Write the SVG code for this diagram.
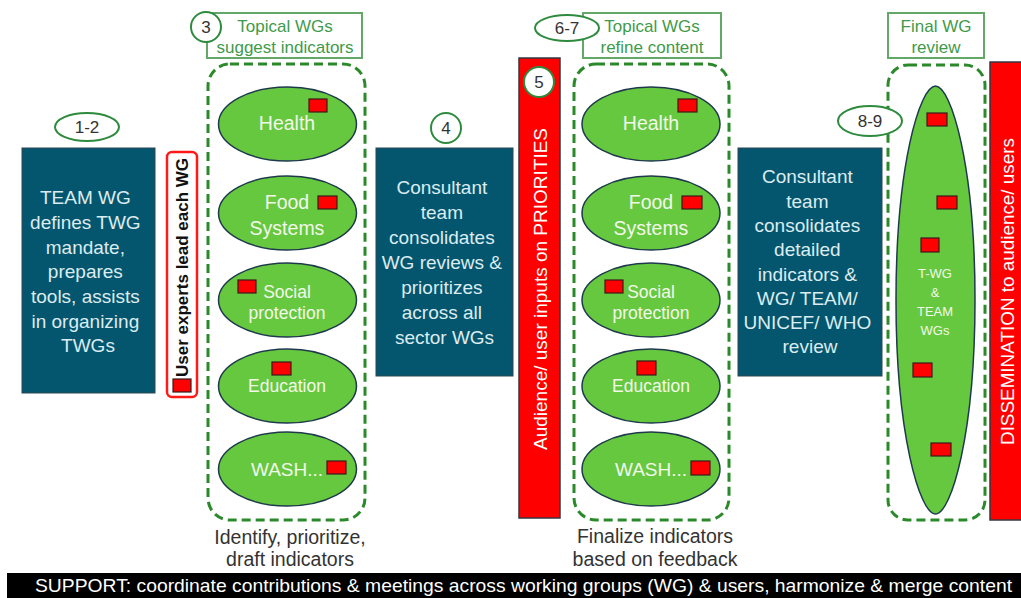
<svg xmlns="http://www.w3.org/2000/svg" width="1021" height="598" viewBox="0 0 1021 598">
  <style>
    text { font-family: "Liberation Sans", Arial, sans-serif; }
    .box { fill: #04566f; stroke: #2d4650; stroke-width: 1; }
    .boxtxt { fill: #dcecf0; font-size: 19px; text-anchor: middle; }
    .wg { fill: #66c83f; stroke: #1e3a4c; stroke-width: 1.5; }
    .wgtxt { fill: #f2f8ea; text-anchor: middle; }
    .big { font-size: 19.5px; }
    .small { font-size: 17.5px; }
    .flag { fill: #ff0000; stroke: #3a1a1a; stroke-width: 1.2; }
    .group { fill: none; stroke: #2a8a2a; stroke-width: 3; stroke-dasharray: 9 5; }
    .hdr { fill: #ffffff; stroke: #63a868; stroke-width: 2; }
    .hdrtxt { fill: #3f9a4a; font-size: 17px; text-anchor: middle; }
    .step { fill: #ffffff; stroke: #2e8b3e; stroke-width: 2; }
    .steptxt { fill: #333333; font-size: 17px; text-anchor: middle; }
    .note { fill: #333333; font-size: 19.5px; text-anchor: middle; }
    .bar { fill: #ff0000; stroke: #33393f; stroke-width: 1.5; }
    .bartxt { fill: #ffffff; font-size: 18.5px; text-anchor: middle; }
  </style>

  <!-- step 1-2: TEAM WG -->
  <g id="team-wg">
    <rect class="box" x="22" y="148" width="133" height="245"/>
    <text class="boxtxt">
      <tspan x="88" y="204">TEAM WG</tspan>
      <tspan x="88" y="229">defines TWG</tspan>
      <tspan x="88" y="254">mandate,</tspan>
      <tspan x="88" y="278">prepares</tspan>
      <tspan x="88" y="303">tools, assists</tspan>
      <tspan x="88" y="328">in organizing</tspan>
      <tspan x="88" y="352">TWGs</tspan>
    </text>
    <ellipse class="step" cx="87" cy="127" rx="32" ry="14"/>
    <text class="steptxt" x="87" y="133">1-2</text>
  </g>

  <!-- legend: user experts -->
  <g id="user-experts">
    <rect x="167" y="152" width="30" height="245" rx="5" fill="#ffffff" stroke="#ff1a1a" stroke-width="2.5"/>
    <text transform="translate(188 267.5) rotate(-90)" font-size="16" font-weight="bold" fill="#111111" text-anchor="middle" textLength="219" lengthAdjust="spacingAndGlyphs">User experts lead each WG</text>
    <rect class="flag" x="173" y="379" width="18" height="13"/>
  </g>

  <!-- step 3: topical WGs suggest indicators -->
  <g id="topical-wgs-suggest">
    <rect class="hdr" x="207" y="13" width="155" height="45"/>
    <text class="hdrtxt"><tspan x="285" y="32">Topical WGs</tspan><tspan x="285" y="53">suggest indicators</tspan></text>
    <circle class="step" cx="206" cy="27" r="15"/>
    <text class="steptxt" x="206" y="33">3</text>
    <rect class="group" x="208" y="64" width="157" height="456" rx="22"/>

    <ellipse class="wg" cx="287.5" cy="124" rx="69" ry="37"/>
    <text class="wgtxt big" x="287" y="130">Health</text>
    <rect class="flag" x="309" y="99" width="18" height="13"/>

    <ellipse class="wg" cx="287.5" cy="213" rx="69" ry="37"/>
    <text class="wgtxt big"><tspan x="287" y="209">Food</tspan><tspan x="287" y="235">Systems</tspan></text>
    <rect class="flag" x="318" y="196" width="19" height="13"/>

    <ellipse class="wg" cx="287.5" cy="300" rx="69" ry="37"/>
    <text class="wgtxt small"><tspan x="287" y="298">Social</tspan><tspan x="287" y="319">protection</tspan></text>
    <rect class="flag" x="238" y="280" width="18" height="13"/>

    <ellipse class="wg" cx="287.5" cy="386" rx="69" ry="37"/>
    <text class="wgtxt small" x="287" y="392">Education</text>
    <rect class="flag" x="272" y="362" width="19" height="13"/>

    <ellipse class="wg" cx="287.5" cy="469" rx="69" ry="37"/>
    <text class="wgtxt" x="287" y="476" font-size="19">WASH...</text>
    <rect class="flag" x="327" y="461" width="19" height="13"/>

    <text class="note"><tspan x="290" y="544">Identify, prioritize,</tspan><tspan x="290" y="566">draft indicators</tspan></text>
  </g>

  <!-- step 4: consultant team prioritizes -->
  <g id="consultant-prioritize">
    <rect class="box" x="376" y="148" width="137" height="228"/>
    <text class="boxtxt">
      <tspan x="444.5" y="194">Consultant</tspan>
      <tspan x="444.5" y="219">team</tspan>
      <tspan x="444.5" y="244">consolidates</tspan>
      <tspan x="444.5" y="269">WG reviews &amp;</tspan>
      <tspan x="444.5" y="294">prioritizes</tspan>
      <tspan x="444.5" y="319">across all</tspan>
      <tspan x="444.5" y="344">sector WGs</tspan>
    </text>
    <circle class="step" cx="446" cy="128" r="15"/>
    <text class="steptxt" x="446" y="134">4</text>
  </g>

  <!-- step 5: audience inputs -->
  <g id="audience-inputs">
    <rect class="bar" x="519" y="58" width="41" height="460"/>
    <text class="bartxt" transform="translate(546.5 289) rotate(-90)" textLength="322" lengthAdjust="spacingAndGlyphs">Audience/ user inputs on PRIORITIES</text>
    <circle class="step" cx="539" cy="82" r="15"/>
    <text class="steptxt" x="539" y="88">5</text>
  </g>

  <!-- step 6-7: topical WGs refine content -->
  <g id="topical-wgs-refine">
    <rect class="hdr" x="583" y="13" width="138" height="45"/>
    <text class="hdrtxt"><tspan x="652" y="32">Topical WGs</tspan><tspan x="652" y="53">refine content</tspan></text>
    <ellipse class="step" cx="567" cy="28" rx="32" ry="13"/>
    <text class="steptxt" x="567" y="34">6-7</text>
    <rect class="group" x="574" y="64" width="155" height="456" rx="22"/>

    <ellipse class="wg" cx="651" cy="124" rx="69" ry="37"/>
    <text class="wgtxt big" x="651" y="130">Health</text>
    <rect class="flag" x="678" y="99" width="19" height="13"/>

    <ellipse class="wg" cx="651" cy="213" rx="69" ry="37"/>
    <text class="wgtxt big"><tspan x="651" y="209">Food</tspan><tspan x="651" y="235">Systems</tspan></text>
    <rect class="flag" x="682" y="196" width="20" height="13"/>

    <ellipse class="wg" cx="651" cy="300" rx="69" ry="37"/>
    <text class="wgtxt small"><tspan x="651" y="298">Social</tspan><tspan x="651" y="319">protection</tspan></text>
    <rect class="flag" x="605" y="280" width="18" height="13"/>

    <ellipse class="wg" cx="651" cy="386" rx="69" ry="37"/>
    <text class="wgtxt small" x="651" y="392">Education</text>
    <rect class="flag" x="637" y="361" width="19" height="14"/>

    <ellipse class="wg" cx="651" cy="469" rx="69" ry="37"/>
    <text class="wgtxt" x="651" y="476" font-size="19">WASH...</text>
    <rect class="flag" x="691" y="461" width="19" height="14"/>

    <text class="note"><tspan x="655" y="543">Finalize indicators</tspan><tspan x="655" y="566">based on feedback</tspan></text>
  </g>

  <!-- step 8: consultant team consolidates detailed indicators -->
  <g id="consultant-consolidate">
    <rect class="box" x="738" y="148" width="144" height="228"/>
    <text class="boxtxt">
      <tspan x="810" y="183">Consultant</tspan>
      <tspan x="810" y="208">team</tspan>
      <tspan x="810" y="232">consolidates</tspan>
      <tspan x="810" y="256">detailed</tspan>
      <tspan x="810" y="281">indicators &amp;</tspan>
      <tspan x="810" y="305">WG/ TEAM/</tspan>
      <tspan x="810" y="329">UNICEF/ WHO</tspan>
      <tspan x="810" y="353">review</tspan>
    </text>
  </g>

  <!-- step 8-9: final WG review -->
  <g id="final-wg-review">
    <rect class="hdr" x="888" y="13" width="96" height="45"/>
    <text class="hdrtxt"><tspan x="936" y="32">Final WG</tspan><tspan x="936" y="53">review</tspan></text>
    <rect class="group" x="888" y="65" width="97" height="455" rx="20"/>
    <path class="wg" d="M935.5,86 C951,86 975,165 975,300 C975,435 951,514 935.5,514 C920,514 896,435 896,300 C896,165 920,86 935.5,86 Z"/>
    <rect class="flag" x="927" y="113" width="20" height="13"/>
    <rect class="flag" x="937" y="196" width="20" height="13"/>
    <rect class="flag" x="921" y="238" width="18" height="14"/>
    <rect class="flag" x="913" y="363" width="19" height="14"/>
    <rect class="flag" x="931" y="443" width="20" height="13"/>
    <text class="wgtxt" font-size="13"><tspan x="935" y="278">T-WG</tspan><tspan x="935" y="297">&amp;</tspan><tspan x="935" y="316">TEAM</tspan><tspan x="935" y="335">WGs</tspan></text>
    <ellipse class="step" cx="870" cy="121" rx="32" ry="15"/>
    <text class="steptxt" x="870" y="127">8-9</text>
  </g>

  <!-- dissemination -->
  <g id="dissemination">
    <rect class="bar" x="990" y="62" width="40" height="458"/>
    <text class="bartxt" transform="translate(1013.5 291.5) rotate(-90)" textLength="307" lengthAdjust="spacingAndGlyphs">DISSEMINATION to audience/ users</text>
  </g>

  <!-- support band -->
  <g id="support">
    <rect x="7" y="573" width="1020" height="30" fill="#000000"/>
    <text x="35" y="592" font-size="18.5" fill="#ffffff" textLength="977" lengthAdjust="spacingAndGlyphs">SUPPORT: coordinate contributions &amp; meetings across working groups (WG) &amp; users, harmonize &amp; merge content</text>
  </g>

  <g id="connectors"/>
</svg>
